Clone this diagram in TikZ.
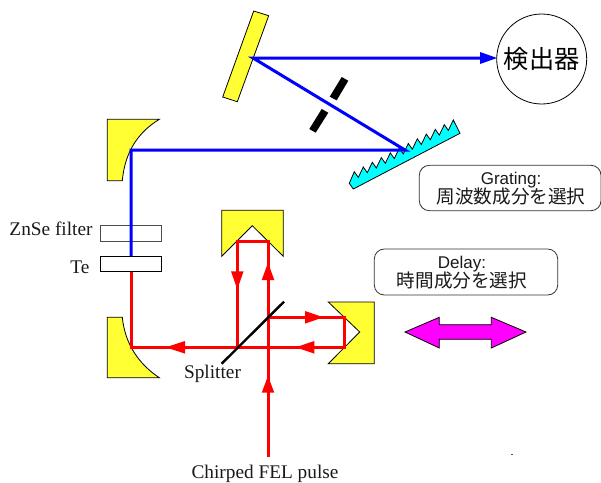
\documentclass[tikz,border=0pt]{standalone}
\usepackage{fontspec}
\setmainfont{Liberation Serif}
\setsansfont{Liberation Sans}
\newfontfamily\cjkf{Noto Sans CJK JP}
\usetikzlibrary{calc,arrows.meta}
\definecolor{myyellow}{RGB}{255,255,51}
\definecolor{mycyan}{RGB}{0,255,255}
\definecolor{mymagenta}{RGB}{255,0,255}
\tikzset{
  optic/.style={draw=black,line width=0.8pt,fill=myyellow,line join=miter},
  filterbox/.style={draw=black,line width=0.8pt,fill=white},
  bluebeam/.style={draw=blue,line width=3pt,line join=miter},
  redbeam/.style={draw=red,line width=3pt,line join=miter},
  redhead/.style={fill=red,draw=none},
  label/.style={font=\fontsize{19.3}{21}\selectfont,inner sep=0pt,text=black!90},
  infobox/.style={draw=black!80,line width=0.8pt,rounded corners=10pt,fill=white},
  infotext/.style={font=\sffamily\fontsize{17}{19}\selectfont,inner sep=0pt,text=black!90},
  infocjk/.style={font=\cjkf\fontsize{18.6}{20}\selectfont,inner sep=0pt,text=black!90},
}
\begin{document}
\begin{tikzpicture}[x=1pt,y=-1pt]
\useasboundingbox (0,0) rectangle (601,482);
% coordinates
\coordinate (fm) at (253,58);
\coordinate (det) at (497,58);
\coordinate (gr) at (405,150);
\coordinate (pt) at (131,150);
\coordinate (pb) at (131,347.3);
\coordinate (te) at (131,264);
\coordinate (src) at (268,457);
\coordinate (sp1) at (268,347.3);
\coordinate (sp2) at (237.3,347.3);
\coordinate (sp3) at (268,317.3);
\coordinate (rt1) at (268,241.3);
\coordinate (rt2) at (237.3,241.3);
\coordinate (rr1) at (344.3,317.3);
\coordinate (rr2) at (344.3,347.3);
% mirrors
\draw[optic] (253.7,11) -- (268.7,15.7) -- (237.3,101.7) -- (222.7,97) -- cycle;
\draw[optic] (107.3,119.3) -- (159.3,119.3) .. controls (140,131) and (125,150) .. (122.3,180.7) -- (107.3,180.7) -- cycle;
\draw[optic] (107.3,317.3) -- (122.3,317.3) .. controls (125,345) and (140,365) .. (159.3,377.7) -- (107.3,377.7) -- cycle;
\draw[optic] (221.7,210.3) -- (283.3,210.3) -- (283.3,256.3) -- (252.3,225.7) -- (221.7,256.3) -- cycle;
\draw[optic] (328.3,302) -- (374.3,302) -- (374.3,363.7) -- (328.3,363.7) -- (359.7,332) -- cycle;
% grating
\draw[draw=black,line width=0.8pt,fill=mycyan]
  (349.3,183.3)
  \foreach \i in {0,...,11} { -- ({354.3+9*\i},{171.7-4.7*\i}) \ifnum\i<11 -- ({358.3+9*\i},{177.4-4.7*\i}) \fi }
  -- (460,133.3) -- (353.3,189) -- cycle;
% filters
\draw[filterbox,draw=black!70] (100.3,225.7) rectangle (161.7,241);
% slit
\fill[black] (341.7,77) -- (348.3,80.7) -- (336.7,100.3) -- (329.7,96.7) -- cycle;
\fill[black] (321.7,109) -- (328.3,112.7) -- (315.7,132.7) -- (309.3,129) -- cycle;
% blue beams
\draw[bluebeam] (te) -- (pt) -- (gr) -- (fm) -- ($(det)+(-10,0)$);
\fill[blue] (det) -- (480,52) -- (480,64) -- cycle;
\node[filterbox,minimum width=61.4pt,minimum height=15.4pt,inner sep=0pt] (tebox) at (131,264) {};
% red beams
\draw[redbeam] (tebox.south) -- (pb) -- (sp2);
\draw[redbeam] (sp2) -- (rr2) -- (rr1) -- (sp3);
\draw[redbeam] (src) -- (rt1) -- (rt2) -- (sp2);
% splitter
\draw[black,line width=2.4pt] (221.7,363.7) -- (284,301.7);
\draw[redbeam] (268,340) -- (268,355);
% red arrowheads
\fill[redhead] (165.7,347.3) -- (185,341) -- (185,353.6) -- cycle;
\fill[redhead] (295.7,347.3) -- (314.3,341) -- (314.3,353.6) -- cycle;
\fill[redhead] (323.3,317.3) -- (305,311) -- (305,323.6) -- cycle;
\fill[redhead] (237.3,289.3) -- (231,271.3) -- (243.6,271.3) -- cycle;
\fill[redhead] (268,262.7) -- (261.7,280) -- (274.3,280) -- cycle;
\fill[redhead] (268,376) -- (261.7,392.7) -- (274.3,392.7) -- cycle;
% detector
\node[circle,draw=black,line width=0.8pt,minimum size=90pt,inner sep=0pt,font=\cjkf\fontsize{25.2}{27}\selectfont] (detector) at (541.7,59) {検出器};
% boxes
\draw[infobox] (419.3,165.3) rectangle (601,210.7);
\node[infotext,anchor=base] (gtext) at (511,184) {Grating:};
\node[infocjk,anchor=base] (gcjk) at (511,203) {周波数成分を選択};
\draw[infobox] (374.3,249) rectangle (557.7,295);
\node[infotext,anchor=base] (dtext) at (462,268) {Delay:};
\node[infocjk,anchor=base] (dcjk) at (462,287) {時間成分を選択};
% delay arrow
\draw[draw=black,line width=0.8pt,fill=mymagenta] (405,332) -- (439.3,317.3) -- (439.3,324.7) -- (491.3,324.7) -- (491.3,317.3) -- (526,332) -- (491.3,348) -- (491.3,339.3) -- (439.3,339.3) -- (439.3,348) -- cycle;
% labels
\node[label] (l1) at (51,229) {ZnSe filter};
\node[label] (l2) at (80,267) {Te};
\node[label] (l3) at (212.5,374) {Splitter};
\node[label] (l4) at (265,474) {Chirped FEL pulse};
\fill[black!70] (511,453.5) rectangle (512.5,455);
\end{tikzpicture}
\end{document}
